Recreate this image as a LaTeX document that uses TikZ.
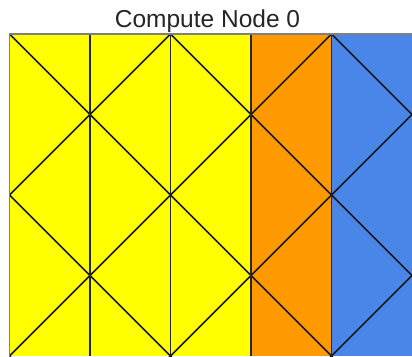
\documentclass[tikz,border=0pt]{standalone}
\usepackage{fontspec}
\setmainfont{Liberation Sans}
\definecolor{celly}{HTML}{FFFF00}
\definecolor{cello}{HTML}{FF9900}
\definecolor{cellb}{HTML}{4A86E8}
\definecolor{frameg}{HTML}{808080}
\tikzset{
  diagline/.style={line width=1.7pt, draw=black!90},
  vline/.style={line width=1.4pt, draw=black!85},
  frameline/.style={line width=1.2pt, draw=frameg},
  titletext/.style={font=\fontsize{24.5}{27}\selectfont, text=black!85, inner sep=0pt, anchor=base}
}
\begin{document}
\begin{tikzpicture}[x=1pt,y=-1pt]
\useasboundingbox (0,0) rectangle (412,356);
\fill[white] (0,0) rectangle (412,356);
\fill[celly] (9.5,34) rectangle (251,356);
\fill[cello] (251,34) rectangle (331.5,356);
\fill[cellb] (331.5,34) rectangle (412,356);
\begin{scope}[shift={(9.5,34)}, x=80.5pt, y=-80.5pt]
  \clip (0,0) rectangle (5,4);
  \foreach \k in {-4,-2,0,2,4} {
    \draw[diagline] (\k-1,-1) -- (\k+10,10);
  }
  \foreach \k in {0,2,4,6,8,10} {
    \draw[diagline] (\k+1,-1) -- (\k-11,11);
  }
  \foreach \u in {1,2,3,4} {
    \draw[vline] (\u,0) -- (\u,4);
  }
\end{scope}
\draw[frameline] (9.5,356) -- (9.5,34) -- (412,34);
\node[titletext] (title) at (207.5,27.5) {Compute Node 0};
\end{tikzpicture}
\end{document}
